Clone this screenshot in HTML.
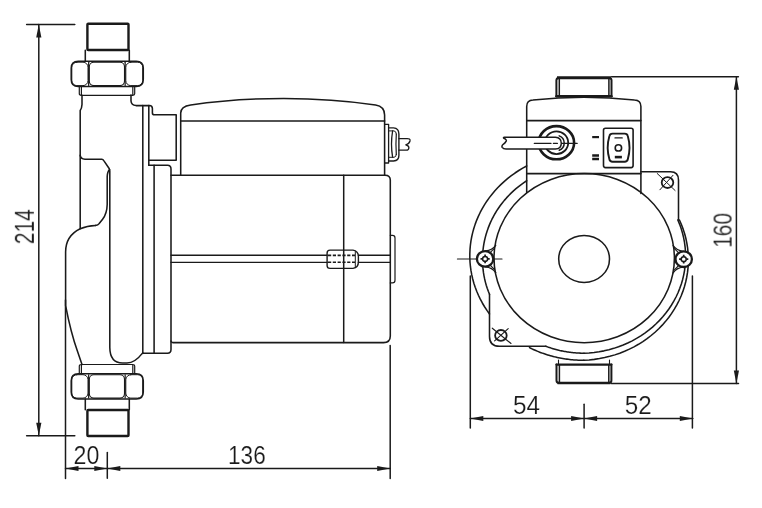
<!DOCTYPE html>
<html><head><meta charset="utf-8"><title>Pump dimensions</title>
<style>
html,body{margin:0;padding:0;background:#fff;}
body{width:762px;height:508px;overflow:hidden;font-family:"Liberation Sans",sans-serif;}
svg{display:block;}
svg text{font-family:"Liberation Sans",sans-serif;}
</style></head><body>
<svg width="762" height="508" viewBox="0 0 762 508" fill="none" stroke="#1a1a1a" stroke-linecap="round" stroke-linejoin="round">
<defs><filter id="nf" x="-20%" y="-20%" width="140%" height="140%" color-interpolation-filters="sRGB"><feOffset dx="0" dy="0"/></filter></defs>
<rect x="0" y="0" width="762" height="508" fill="#fff" stroke="none"/>
<line x1="26.6" y1="24.6" x2="74.8" y2="24.6" stroke-width="1.5" />
<line x1="26.6" y1="435.8" x2="74.8" y2="435.8" stroke-width="1.5" />
<line x1="38.8" y1="24.6" x2="38.8" y2="435.8" stroke-width="1.5" />
<polygon points="38.8,24.6 36.20,37.60 41.40,37.60" fill="#1a1a1a" stroke="none"/>
<polygon points="38.8,435.8 41.40,422.80 36.20,422.80" fill="#1a1a1a" stroke="none"/>
<text x="0" y="0" font-size="20.0" fill="#1a1a1a" stroke="#fff" stroke-width="0.15" filter="url(#nf)" transform="translate(24.4 226.55) rotate(-90) scale(1.0473 1.3500) translate(-16.850 7.000)">214</text>
<rect x="87.4" y="23.8" width="41.1" height="26.2" rx="0.8" stroke-width="2.4" />
<path d="M85.3,50.2 L85.3,61.3 M129.3,50.2 L129.3,61.3" stroke-width="1.55" />
<path d="M78.2,61.3 L136.3,61.3 Q143.3,61.3 143.3,68.3 L143.3,79.5 Q143.3,86.5 136.3,86.5 L78.2,86.5 Q71.2,86.5 71.2,79.5 L71.2,68.3 Q71.2,61.3 78.2,61.3 Z" stroke-width="1.5" />
<rect x="89.3" y="62.199999999999996" width="35.2" height="23.4" rx="4.5" stroke-width="1.1" />
<rect x="71.8" y="62.199999999999996" width="16.2" height="23.4" rx="5.0" stroke-width="1.0" />
<rect x="125.8" y="62.199999999999996" width="16.9" height="23.4" rx="5.0" stroke-width="1.0" />
<line x1="88.65" y1="62.3" x2="88.65" y2="85.5" stroke-width="1.2" />
<line x1="125.15" y1="62.3" x2="125.15" y2="85.5" stroke-width="1.2" />
<path d="M79.3,86.5 L79.3,93.8 Q79.3,95.3 81.4,95.3 M134.7,86.5 L134.7,93.8 Q134.7,95.3 132.8,95.3 M81.4,95.3 L132.8,95.3 M81.4,86.5 L81.4,95.3 M132.8,86.5 L132.8,95.3" stroke-width="1.2" />
<rect x="87.4" y="410.0" width="41.1" height="26.0" rx="0.8" stroke-width="2.4" />
<path d="M85.3,399.0 L85.3,409.8 M129.3,399.0 L129.3,409.8" stroke-width="1.55" />
<path d="M78.2,373.8 L136.3,373.8 Q143.3,373.8 143.3,380.8 L143.3,392.0 Q143.3,399.0 136.3,399.0 L78.2,399.0 Q71.2,399.0 71.2,392.0 L71.2,380.8 Q71.2,373.8 78.2,373.8 Z" stroke-width="1.5" />
<rect x="89.3" y="374.7" width="35.2" height="23.4" rx="4.5" stroke-width="1.1" />
<rect x="71.8" y="374.7" width="16.2" height="23.4" rx="5.0" stroke-width="1.0" />
<rect x="125.8" y="374.7" width="16.9" height="23.4" rx="5.0" stroke-width="1.0" />
<line x1="88.65" y1="374.8" x2="88.65" y2="398.0" stroke-width="1.2" />
<line x1="125.15" y1="374.8" x2="125.15" y2="398.0" stroke-width="1.2" />
<path d="M79.3,373.8 L79.3,366.0 Q79.3,364.5 81.4,364.5 M134.7,373.8 L134.7,366.0 Q134.7,364.5 132.8,364.5 M81.4,364.5 L132.8,364.5 M81.4,364.5 L81.4,373.8 M132.8,364.5 L132.8,373.8" stroke-width="1.2" />
<path d="M82,95.3 L82,104.5 Q81.8,108.5 80.2,110.5 L80.2,228.7" stroke-width="1.55" />
<path d="M80.2,155.3 Q80.6,158.8 85,159.2 L101.8,159.2 Q103,159.3 103.8,160.6 L109.3,168.8 L109.8,171 L109.8,347.5 Q110,363 122.5,363 L127,363 C132.5,363 138,359 142.7,352.9" stroke-width="1.55" />
<path d="M109.6,169.6 Q107.4,171.5 107.2,176.5 L107.2,204.5 Q107,213.5 102.6,219.3 L99.2,223.6 Q98,225.2 95.5,225.4" stroke-width="1.55" />
<path d="M95.5,225.4 Q87,225.6 80.2,228.7 Q65.6,235.8 65.6,252 L65.6,305.6 C68.4,320 72,336 77.3,350.7 L82,364.4" stroke-width="1.55" />
<path d="M131,95 L131,101 Q131.3,105.2 136,105.6 L149.3,105.6 Q152.4,105.8 152.4,108.5 L152.4,113 Q152.4,114.8 154.5,114.8 L176.2,114.8 L176.2,160.2 L148.8,160.2" stroke-width="1.55" />
<line x1="142.8" y1="105.6" x2="142.8" y2="353.4" stroke-width="1.55" />
<line x1="148.8" y1="105.6" x2="148.8" y2="165.2" stroke-width="1.55" />
<path d="M148.8,165.2 L167.5,165.2 Q171.0,165.2 171.0,169 L171.0,349.5 Q171.0,353.2 167.5,353.2 L142.8,353.2" stroke-width="1.55" />
<line x1="154.1" y1="165.2" x2="154.1" y2="353.2" stroke-width="1.55" />
<path d="M171.0,175.2 L385,175.2 Q390.3,175.2 390.3,180 L390.3,336 Q390.3,342.6 383.5,342.6 L172.6,342.6 Q171.1,342.4 171.0,341" stroke-width="1.55" />
<line x1="343.7" y1="175.2" x2="343.7" y2="342.6" stroke-width="1.5" />
<path d="M171.0,255.3 L327.1,255.3 M358.4,255.3 L390.3,255.3 M171.0,262.4 L327.1,262.4 M358.4,262.4 L390.3,262.4" stroke-width="1.4" />
<path d="M330,250.1 L353,250.1 Q358.4,251 358.4,256.5 L358.4,262 Q358.4,267.5 353,268.4 L330,268.4 Q327.1,268.4 327.1,265.5 L327.1,253 Q327.1,250.1 330,250.1 Z" stroke-width="1.4" />
<path d="M355.3,251.5 L355.3,267" stroke-width="1.0" />
<path d="M328,255.4 L355,255.4 M328,262.3 L355,262.3" stroke-width="1.6" stroke-dasharray="3.2 1.6" stroke-linecap="butt"/>
<path d="M390.3,235.3 L392.5,235.3 Q395,235.3 395,238 L395,280.2 Q395,282.9 392.5,282.9 L390.3,282.9" stroke-width="1.2" />
<path d="M180.7,175.2 L180.7,113 Q180.7,106.3 190.7,104.9 C250,96.3 318,96.3 375.6,105.0 Q384.6,106.5 384.6,114.9 L384.6,175.2" stroke-width="1.55" />
<line x1="180.7" y1="121.0" x2="384.6" y2="121.0" stroke-width="1.55" />
<path d="M384.9,124.3 L388.6,124.3 L388.6,163 L384.9,163" stroke-width="1.3" />
<path d="M388.6,127.9 L393.5,127.9 Q398.9,128.3 398.9,134 L398.9,155.5 Q398.9,160.6 393.5,161 L388.6,161" stroke-width="1.4" />
<path d="M388.6,130.9 L394,130.9 Q396.3,131.2 396.3,134 M388.6,157.3 L394,157.3 Q396.3,157 396.3,154.5" stroke-width="1.0" />
<path d="M392.6,131 Q390.4,144 392.6,157.2" stroke-width="1.3" />
<path d="M396.3,134 Q395.6,144 396.3,154.5" stroke-width="1.2" />
<path d="M398.9,138.6 L406.5,138.6 Q410.6,138.3 410,141 Q409.2,143.8 405.8,144.8 Q408.9,145.6 408.9,147.7 Q408.8,150.2 406.3,150.2 L398.9,150.2" stroke-width="1.3" />
<line x1="65.5" y1="300" x2="65.5" y2="478.4" stroke-width="1.5" />
<line x1="107.3" y1="452.5" x2="107.3" y2="478.2" stroke-width="1.5" />
<line x1="390.2" y1="345.5" x2="390.2" y2="478.4" stroke-width="1.5" />
<line x1="65.5" y1="468.5" x2="390.2" y2="468.5" stroke-width="1.5" />
<polygon points="65.5,468.5 78.50,471.10 78.50,465.90" fill="#1a1a1a" stroke="none"/>
<polygon points="107.3,468.5 94.30,465.90 94.30,471.10" fill="#1a1a1a" stroke="none"/>
<polygon points="107.3,468.5 120.30,471.10 120.30,465.90" fill="#1a1a1a" stroke="none"/>
<polygon points="390.2,468.5 377.20,465.90 377.20,471.10" fill="#1a1a1a" stroke="none"/>
<text x="0" y="0" font-size="20.0" fill="#1a1a1a" stroke="#fff" stroke-width="0.15" filter="url(#nf)" transform="translate(86.6 455.6) rotate(0) scale(1.1618 1.2465) translate(-11.200 6.900)">20</text>
<text x="0" y="0" font-size="20.0" fill="#1a1a1a" stroke="#fff" stroke-width="0.15" filter="url(#nf)" transform="translate(247.2 455.6) rotate(0) scale(1.1294 1.2465) translate(-16.950 6.900)">136</text>
<path d="M556.4,96.3 L556.4,80.3 Q556.4,77.9 558.9,77.9 L609.0,77.9 Q611.5,77.9 611.5,80.3 L611.5,96.3" stroke-width="2.0" />
<path d="M557,77.8 L611,77.8" stroke-width="2.9" stroke-linecap="butt"/>
<path d="M556.4,96.3 L611.5,96.3" stroke-width="2.4" />
<path d="M559.3,79 L559.3,96 M608.9,79 L608.9,96" stroke-width="1.5" />
<path d="M526.7,192.5 L526.7,106.5 Q526.7,100.2 533,100 Q584,94.5 634.5,100 Q640.9,100.2 640.9,106.5 L640.9,193.5" stroke-width="1.55" />
<line x1="526.7" y1="120.6" x2="640.9" y2="120.6" stroke-width="1.55" />
<line x1="526.7" y1="173.6" x2="640.9" y2="173.6" stroke-width="1.55" />
<ellipse cx="556.4" cy="142.7" rx="17.7" ry="16.6" stroke-width="2.6" />
<ellipse cx="556.5" cy="142.7" rx="11.7" ry="11.4" stroke-width="1.8" />
<path d="M559.2,135.9 Q564.2,138 564.2,143 Q564.2,148.2 559.2,150.3" stroke-width="1.5" />
<path d="M555.4,137.3 L504.3,137.3 Q503,137.4 503.8,138.3 Q506.9,139.6 506.2,141.1 Q505.2,143 503.2,144.3 Q501.4,145.9 502.2,147.3 Q503.3,149.1 506,149.1 L555.4,149.1 Q561.3,148.7 561.3,143.2 Q561.3,137.7 555.4,137.3 Z" stroke-width="1.5" fill="#fff"/>
<path d="M534.3,143.4 L551,143.4 M553.4,143.4 L557.4,143.4 M561.8,143.4 L577.2,143.4" stroke-width="1.2" />
<path d="M592.2,137.1 L599,137.1" stroke-width="2.2" stroke-linecap="butt"/>
<path d="M592.2,155.5 L599,155.5 M592.2,159.0 L599,159.0" stroke-width="2.3" stroke-linecap="butt"/>
<rect x="603.5" y="128.2" width="29.6" height="39.4" rx="2" stroke-width="1.6" />
<path d="M612.5,133.6 L624.7,133.6 Q627.3,133.6 627.8,136 Q631.2,147.6 627.8,159.3 Q627.3,161.7 624.7,161.7 L612.5,161.7 Q609.9,161.7 609.4,159.3 Q606,147.6 609.4,136 Q609.9,133.6 612.5,133.6 Z" stroke-width="1.9" />
<ellipse cx="618.4" cy="147.9" rx="3.2" ry="3.1" stroke-width="1.6" />
<path d="M614.9,137.9 L622.3,137.9" stroke-width="1.1" />
<path d="M614.8,157.1 L621.9,157.1" stroke-width="2.6" stroke-linecap="butt"/>
<ellipse cx="584.1" cy="258.9" rx="25.4" ry="23.5" stroke-width="1.55" />
<ellipse cx="584.2" cy="258.1" rx="90.2" ry="84.6" stroke-width="1.55" />
<path d="M526.70,180.76 L523.92,182.61 L521.20,184.55 L518.56,186.58 L515.99,188.69 L513.49,190.87 L511.08,193.14 L508.75,195.48 L506.50,197.89 L504.34,200.38 L502.27,202.93 L500.30,205.54 L498.41,208.21 L496.63,210.95 L494.94,213.73 L493.36,216.57 L491.87,219.46 L490.49,222.39 L489.22,225.37 L488.05,228.38 L486.99,231.43 L486.05,234.51 L485.21,237.62 L484.48,240.75 L483.87,243.90 L483.36,247.07 L482.98,250.26 L482.70,253.46 L482.55,256.66 L482.50,259.86 L482.57,263.07 L482.76,266.27 L483.06,269.47 L483.47,272.65 L484.00,275.82 L484.64,278.97 L485.39,282.09 L486.25,285.20 L487.23,288.27 L488.31,291.31 L489.50,294.31" stroke-width="1.55" />
<path d="M545.70,346.21 L546.61,346.55 L547.53,346.88 L548.44,347.21 L549.36,347.52 L550.29,347.83 L551.22,348.13 L552.15,348.42 L553.08,348.70 L554.02,348.98 L554.96,349.24 L555.90,349.50 L556.84,349.75 L557.79,349.99 L558.74,350.22 L559.69,350.45 L560.65,350.66 L561.60,350.87 L562.56,351.07 L563.52,351.25 L564.49,351.44 L565.45,351.61 L566.42,351.77 L567.38,351.92 L568.35,352.07 L569.32,352.21 L570.30,352.33 L571.27,352.45 L572.24,352.56 L573.22,352.66 L574.20,352.76 L575.17,352.84 L576.15,352.92 L577.13,352.98 L578.11,353.04 L579.09,353.09 L580.07,353.13 L581.05,353.16 L582.04,353.18 L583.02,353.20 L584.00,353.20" stroke-width="1.55" />
<path d="M584.00,353.25 L589.05,352.99 L594.07,352.51 L599.07,351.80 L604.02,350.87 L608.92,349.73 L613.76,348.37 L618.51,346.79 L623.18,345.01 L627.75,343.02 L632.22,340.83 L636.56,338.44 L640.77,335.87 L644.84,333.11 L648.77,330.17 L652.53,327.07 L656.13,323.80 L659.56,320.37 L662.80,316.79 L665.85,313.08 L668.70,309.23 L671.35,305.27 L673.79,301.19 L676.02,297.00 L678.02,292.72 L679.79,288.36 L681.34,283.93 L682.65,279.43 L683.73,274.87 L684.57,270.28 L685.16,265.65 L685.52,261.00 L685.63,256.35 L685.50,251.69 L685.12,247.04 L684.50,242.42 L683.65,237.83 L682.55,233.28 L681.22,228.78 L679.65,224.36 L677.85,220.00" stroke-width="1.55" />
<path d="M526.70,165.95 L522.70,168.15 L518.80,170.51 L515.01,173.01 L511.33,175.65 L507.78,178.42 L504.36,181.33 L501.07,184.36 L497.91,187.51 L494.91,190.77 L492.05,194.15 L489.35,197.63 L486.81,201.20 L484.43,204.87 L482.22,208.63 L480.18,212.46 L478.32,216.37 L476.63,220.34 L475.13,224.37 L473.80,228.46 L472.67,232.59 L471.72,236.76 L470.96,240.96 L470.39,245.19 L470.01,249.43 L469.82,253.69 L469.83,257.95 L470.02,262.20 L470.41,266.45 L470.99,270.67 L471.77,274.88 L472.73,279.04 L473.87,283.17 L475.21,287.26 L476.72,291.28 L478.42,295.25 L480.29,299.16 L482.34,302.99 L484.56,306.74 L486.95,310.40 L489.50,313.97" stroke-width="1.55" />
<path d="M529.50,347.67 L530.75,348.28 L532.00,348.88 L533.27,349.46 L534.54,350.03 L535.82,350.58 L537.11,351.12 L538.40,351.65 L539.70,352.16 L541.01,352.65 L542.33,353.13 L543.65,353.60 L544.98,354.05 L546.31,354.48 L547.65,354.90 L548.99,355.30 L550.34,355.69 L551.70,356.07 L553.06,356.42 L554.42,356.77 L555.79,357.09 L557.17,357.41 L558.54,357.70 L559.92,357.98 L561.31,358.24 L562.70,358.49 L564.09,358.72 L565.49,358.94 L566.88,359.14 L568.28,359.33 L569.69,359.50 L571.09,359.65 L572.50,359.78 L573.91,359.91 L575.32,360.01 L576.73,360.10 L578.14,360.17 L579.56,360.23 L580.97,360.27 L582.39,360.29 L583.80,360.30" stroke-width="1.55" />
<path d="M583.80,360.22 L589.07,359.91 L594.31,359.37 L599.52,358.59 L604.68,357.58 L609.78,356.35 L614.81,354.88 L619.76,353.19 L624.61,351.29 L629.36,349.16 L633.99,346.83 L638.50,344.29 L642.86,341.56 L647.08,338.63 L651.14,335.51 L655.02,332.22 L658.74,328.76 L662.26,325.14 L665.59,321.36 L668.72,317.44 L671.64,313.38 L674.34,309.20 L676.82,304.90 L679.07,300.49 L681.09,295.99 L682.87,291.40 L684.40,286.74 L685.69,282.02 L686.73,277.24 L687.52,272.43 L688.05,267.58 L688.33,262.72 L688.35,257.84 L688.11,252.98 L687.63,248.13 L686.88,243.31 L685.89,238.52 L684.64,233.79 L683.15,229.12 L681.41,224.52 L679.44,220.00" stroke-width="1.55" />
<path d="M640.9,171.7 L670.5,171.7 Q678.5,171.7 678.5,180 L678.5,220" stroke-width="1.55" />
<path d="M489.5,294.3 L489.5,336.5 Q489.5,346.3 499.5,346.3 L545.7,346.3" stroke-width="1.55" />
<ellipse cx="667.5" cy="182.6" rx="5.8" ry="5.4" stroke-width="1.8" />
<path d="M657.2,173.5 L675.1,190.5 M673,175.3 L659.9,189.8" stroke-width="1.0" />
<ellipse cx="500.9" cy="335.4" rx="5.8" ry="5.4" stroke-width="1.8" />
<path d="M492.3,328.2 L511,343.5 M508.2,328.6 L494.6,340.8" stroke-width="1.1" />
<path d="M495.70000000000005,245.29999999999998 Q492.1,250.29999999999998 485.6,250.99999999999997 M495.70000000000005,272.5 Q492.1,267.5 485.6,266.79999999999995" stroke-width="1.3" />
<path d="M494.40000000000003,248.29999999999998 L490.1,252.59999999999997 M494.40000000000003,269.5 L490.1,265.2" stroke-width="1.1" />
<ellipse cx="485.1" cy="258.9" rx="8.2" ry="7.8" stroke-width="2.3" fill="#fff"/>
<ellipse cx="485.1" cy="258.9" rx="2.5" ry="2.4" stroke-width="1.5" />
<path d="M480.5,258.9 L482.5,258.9 M487.70000000000005,258.9 L489.70000000000005,258.9 M485.1,254.49999999999997 L485.1,256.4 M485.1,261.4 L485.1,263.29999999999995" stroke-width="1.7" stroke-linecap="butt"/>
<path d="M673.1,245.6 Q676.7,250.6 683.2,251.29999999999998 M673.1,272.8 Q676.7,267.8 683.2,267.09999999999997" stroke-width="1.3" />
<path d="M674.4000000000001,248.6 L678.7,252.89999999999998 M674.4000000000001,269.8 L678.7,265.5" stroke-width="1.1" />
<ellipse cx="683.7" cy="259.2" rx="8.2" ry="7.8" stroke-width="2.3" fill="#fff"/>
<ellipse cx="683.7" cy="259.2" rx="2.5" ry="2.4" stroke-width="1.5" />
<path d="M679.1,259.2 L681.1,259.2 M686.3000000000001,259.2 L688.3000000000001,259.2 M683.7,254.79999999999998 L683.7,256.7 M683.7,261.7 L683.7,263.59999999999997" stroke-width="1.7" stroke-linecap="butt"/>
<line x1="457.4" y1="259.0" x2="477" y2="259.0" stroke-width="1.1" />
<line x1="493" y1="259.0" x2="502" y2="259.0" stroke-width="1.1" />
<path d="M558.5,360.0 L558.5,364.6 M609.5,360.0 L609.5,364.6" stroke-width="1.1" />
<path d="M556.5,364.6 L556.5,380.6 Q556.5,383 559,383 L609.0,383 Q611.4,383 611.4,380.6 L611.4,364.6" stroke-width="2.0" />
<path d="M556.5,364.6 L611.4,364.6" stroke-width="2.3" />
<path d="M557.5,383 L610.5,383" stroke-width="2.7" stroke-linecap="butt"/>
<path d="M559.4,365 L559.4,382 M608.8,365 L608.8,382" stroke-width="1.5" />
<line x1="611.6" y1="76.7" x2="738.4" y2="76.7" stroke-width="1.5" />
<line x1="611.4" y1="383.5" x2="738.5" y2="383.5" stroke-width="1.5" />
<line x1="736.4" y1="76.7" x2="736.4" y2="383.5" stroke-width="1.5" />
<polygon points="736.4,76.7 733.80,89.70 739.00,89.70" fill="#1a1a1a" stroke="none"/>
<polygon points="736.4,383.5 739.00,370.50 733.80,370.50" fill="#1a1a1a" stroke="none"/>
<text x="0" y="0" font-size="20.0" fill="#1a1a1a" stroke="#fff" stroke-width="0.15" filter="url(#nf)" transform="translate(722.4 230.0) rotate(-90) scale(1.0452 1.3310) translate(-17.000 6.900)">160</text>
<line x1="470.3" y1="276" x2="470.3" y2="428" stroke-width="1.5" />
<line x1="692.4" y1="276" x2="692.4" y2="428" stroke-width="1.5" />
<line x1="584.1" y1="404.3" x2="584.1" y2="428" stroke-width="1.5" />
<line x1="470.3" y1="418.5" x2="692.8" y2="418.5" stroke-width="1.5" />
<polygon points="470.3,418.5 483.30,421.10 483.30,415.90" fill="#1a1a1a" stroke="none"/>
<polygon points="584.1,418.5 571.10,415.90 571.10,421.10" fill="#1a1a1a" stroke="none"/>
<polygon points="584.1,418.5 597.10,421.10 597.10,415.90" fill="#1a1a1a" stroke="none"/>
<polygon points="692.8,418.5 679.80,415.90 679.80,421.10" fill="#1a1a1a" stroke="none"/>
<text x="0" y="0" font-size="20.0" fill="#1a1a1a" stroke="#fff" stroke-width="0.15" filter="url(#nf)" transform="translate(526.6 405.1) rotate(0) scale(1.2163 1.2714) translate(-11.200 6.800)">54</text>
<text x="0" y="0" font-size="20.0" fill="#1a1a1a" stroke="#fff" stroke-width="0.15" filter="url(#nf)" transform="translate(638.0 405.0) rotate(0) scale(1.2108 1.2465) translate(-11.000 6.900)">52</text>
</svg>
</body></html>
